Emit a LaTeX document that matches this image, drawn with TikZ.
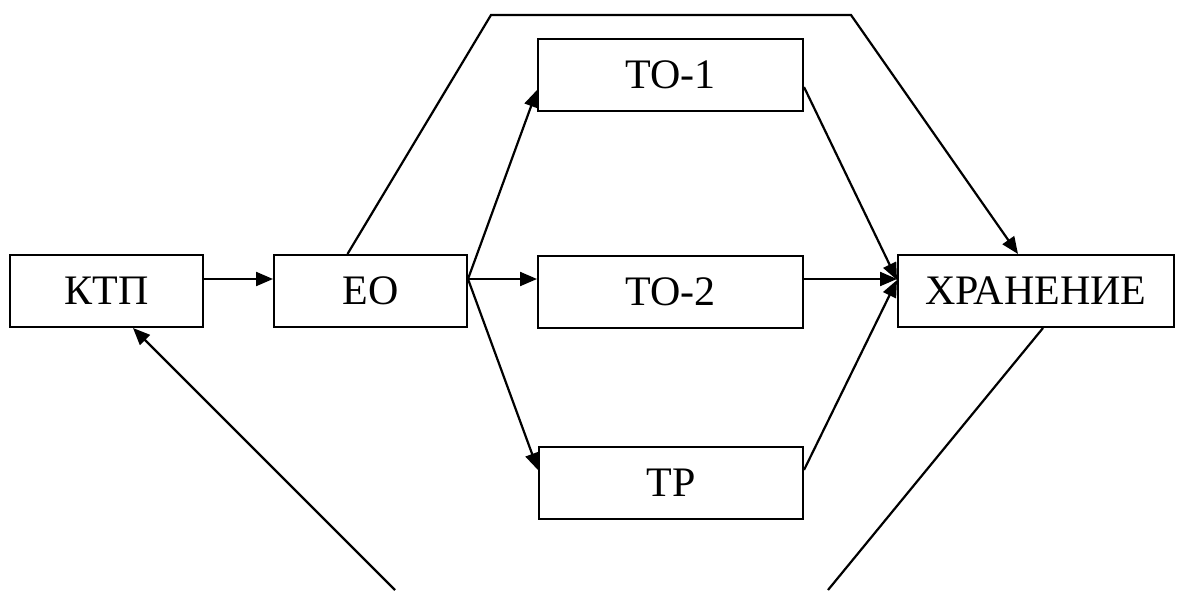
\documentclass[tikz,border=0pt]{standalone}
\usepackage{fontspec}
\setmainfont{Liberation Serif}
\usetikzlibrary{arrows.meta}
\tikzset{
  box/.style={draw, line width=2pt, rectangle, inner sep=0pt, minimum height=72pt, font=\fontsize{42}{50}\selectfont},
  conn/.style={line width=2.2pt},
  arr/.style={conn, -{Triangle[length=17pt,width=14pt]}}
}
\begin{document}
\begin{tikzpicture}[x=1pt,y=-1pt]
\useasboundingbox (0,0) rectangle (1177,590);
\node[box, minimum width=193pt] (KTP) at (106.5,291) {КТП};
\node[box, minimum width=193pt] (EO) at (370.5,291) {ЕО};
\node[box, minimum width=265pt] (TO1) at (670.5,75) {ТО-1};
\node[box, minimum width=265pt] (TO2) at (670.5,291.5) {ТО-2};
\node[box, minimum width=264pt] (TP) at (671,483) {ТР};
\node[box, minimum width=276pt] (XP) at (1036,291) {ХРАНЕНИЕ};
\coordinate (t1) at (491,15);
\coordinate (t2) at (851,15);
\coordinate (b1) at (828,590);
\coordinate (b2) at (395,590);
\draw[arr] ([yshift=12pt]KTP.east) -- ([yshift=12pt]EO.west);
\draw[arr] ([yshift=12pt]EO.east) -- ([yshift=-15pt]TO1.west);
\draw[arr] ([yshift=12pt]EO.east) -- ([yshift=12.5pt]TO2.west);
\draw[arr] ([yshift=12pt]EO.east) -- ([yshift=13pt]TP.west);
\draw[arr] ([yshift=-12pt]TO1.east) -- ([yshift=11pt]XP.west);
\draw[arr] ([yshift=12.5pt]TO2.east) -- ([yshift=12pt]XP.west);
\draw[arr] ([yshift=13pt]TP.east) -- ([yshift=11pt]XP.west);
\draw[arr] ([xshift=-23pt]EO.north) -- (t1) -- (t2) -- ([xshift=-18pt]XP.north);
\draw[conn] ([xshift=7pt]XP.south) -- (b1);
\draw[arr] (b2) -- ([xshift=26.5pt]KTP.south);
\end{tikzpicture}
\end{document}
